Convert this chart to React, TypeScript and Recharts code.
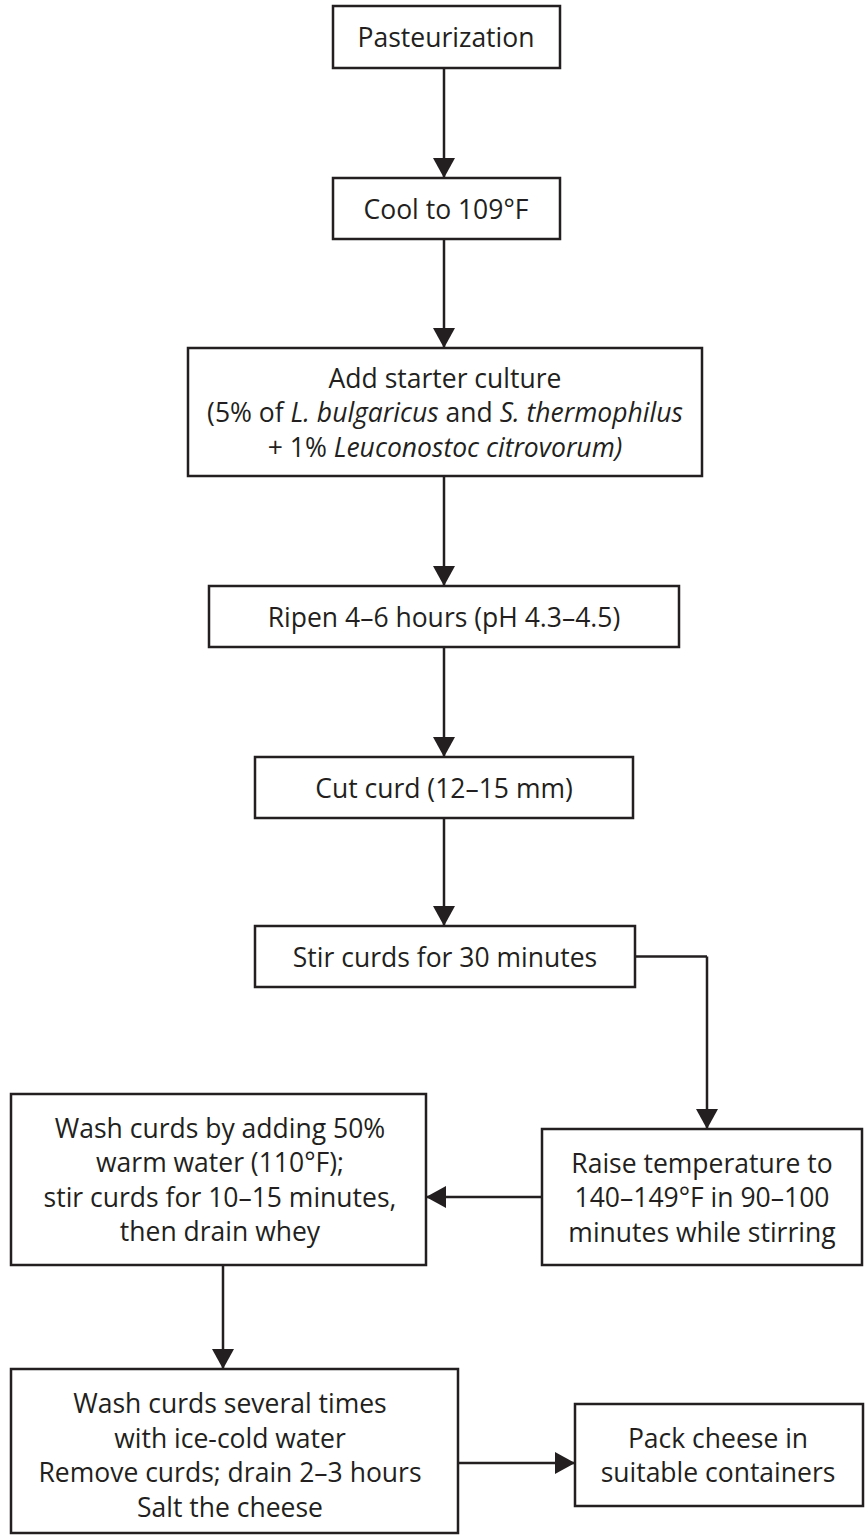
import React from 'react';
import { ScatterChart, Scatter, XAxis, YAxis, ReferenceArea, ReferenceLine } from 'recharts';

const W = 865;
const H = 1535;
const INK = '#231f20';
const FONT = '"Open Sans", "Noto Sans", sans-serif';

// Flow steps (box extents in diagram units)
const steps = [
  'Pasteurization', 'Cool', 'Starter', 'Ripen', 'Cut', 'Stir', 'Raise', 'WashWarm', 'WashCold', 'Pack',
];
const boxX1 = [333, 333, 188, 209, 255, 255, 542, 11, 11, 575];
const boxX2 = [560, 560, 702, 679, 633, 635, 862, 426, 458, 863];
const boxY1 = [6, 178, 348, 586, 757, 926, 1129, 1094, 1369, 1404];
const boxY2 = [68, 239, 476, 647, 818, 987, 1265, 1265, 1533, 1506];

type Seg = [string, boolean];
const stepText: Seg[][][] = [
  [[['Pasteurization', false]]],
  [[['Cool to 109°F', false]]],
  [
    [['Add starter culture', false]],
    [['(5% of ', false], ['L. bulgaricus', true], [' and ', false], ['S. thermophilus', true]],
    [['+ 1% ', false], ['Leuconostoc citrovorum)', true]],
  ],
  [[['Ripen 4–6 hours (pH 4.3–4.5)', false]]],
  [[['Cut curd (12–15 mm)', false]]],
  [[['Stir curds for 30 minutes', false]]],
  [
    [['Raise temperature to', false]],
    [['140–149°F in 90–100', false]],
    [['minutes while stirring', false]],
  ],
  [
    [['Wash curds by adding 50%', false]],
    [['warm water (110°F);', false]],
    [['stir curds for 10–15 minutes,', false]],
    [['then drain whey', false]],
  ],
  [
    [['Wash curds several times', false]],
    [['with ice-cold water', false]],
    [['Remove curds; drain 2–3 hours', false]],
    [['Salt the cheese', false]],
  ],
  [
    [['Pack cheese in', false]],
    [['suitable containers', false]],
  ],
];
const textX = [446, 446, 445, 444, 444, 445, 702, 220, 230, 718];
const textY = [37, 208.5, 412, 616.5, 787.5, 956.5, 1197, 1179.5, 1455, 1455];

// Connector polylines
const linkXs = [
  [444, 444], [444, 444], [444, 444], [444, 444], [444, 444],
  [635, 707, 707], [542, 426], [223, 223], [458, 575],
];
const linkYs = [
  [68, 178], [239, 348], [476, 586], [647, 757], [818, 926],
  [956.5, 956.5, 1129], [1197, 1197], [1265, 1369], [1463, 1463],
];
// Arrow tips
const tipX = [444, 444, 444, 444, 444, 707, 426, 223, 575];
const tipY = [178, 348, 586, 757, 926, 1129, 1197, 1369, 1463];
const tipDir = ['down', 'down', 'down', 'down', 'down', 'down', 'left', 'down', 'right'];

const textData = steps.map((s, i) => ({ x: textX[i], y: textY[i], lines: stepText[i], name: s }));
const tipData = tipX.map((x, i) => ({ x, y: tipY[i], dir: tipDir[i] }));

const LH = 34.5;
const FS = 26.5;

const TextShape = (props: any) => {
  const { cx, cy, payload } = props;
  const lines: Seg[][] = payload.lines;
  const y0 = cy - ((lines.length - 1) * LH) / 2;
  return (
    <g>
      {lines.map((segs, i) => (
        <text
          key={i}
          x={cx}
          y={y0 + i * LH}
          textAnchor="middle"
          dominantBaseline="central"
          fontFamily={FONT}
          fontSize={FS}
          fill={INK}
          style={{ whiteSpace: 'pre' }}
        >
          {segs.map(([t, it], j) => (
            <tspan key={j} fontStyle={it ? 'italic' : 'normal'}>{t}</tspan>
          ))}
        </text>
      ))}
    </g>
  );
};

const ArrowShape = (props: any) => {
  const { cx, cy, payload } = props;
  const L = 20;
  const h = 11;
  let pts = '';
  if (payload.dir === 'down') pts = `${cx - h},${cy - L} ${cx + h},${cy - L} ${cx},${cy}`;
  else if (payload.dir === 'left') pts = `${cx},${cy} ${cx + L},${cy - h} ${cx + L},${cy + h}`;
  else pts = `${cx},${cy} ${cx - L},${cy - h} ${cx - L},${cy + h}`;
  return <polygon points={pts} fill={INK} />;
};

export default function App() {
  const segments: any[] = [];
  linkXs.forEach((xs, i) => {
    for (let k = 0; k < xs.length - 1; k++) {
      segments.push(
        <ReferenceLine
          key={`l${i}-${k}`}
          segment={[
            { x: xs[k], y: linkYs[i][k] },
            { x: xs[k + 1], y: linkYs[i][k + 1] },
          ]}
          stroke={INK}
          strokeWidth={2.5}
          ifOverflow="visible"
        />
      );
    }
  });
  return (
    <div style={{ position: 'absolute', left: 0, top: 0, width: W, height: H, background: '#fff' }}>
      <ScatterChart width={W} height={H} margin={{ top: 0, right: 0, bottom: 0, left: 0 }}>
        <XAxis type="number" dataKey="x" domain={[0, W]} hide allowDataOverflow />
        <YAxis type="number" dataKey="y" domain={[0, H]} reversed hide allowDataOverflow />
        {segments}
        {steps.map((s, i) => (
          <ReferenceArea
            key={s}
            x1={boxX1[i]}
            x2={boxX2[i]}
            y1={boxY1[i]}
            y2={boxY2[i]}
            fill="#fff"
            fillOpacity={1}
            stroke={INK}
            strokeWidth={2.5}
            ifOverflow="visible"
          />
        ))}
        <Scatter data={tipData} shape={ArrowShape} isAnimationActive={false} />
        <Scatter data={textData} shape={TextShape} isAnimationActive={false} />
      </ScatterChart>
    </div>
  );
}
